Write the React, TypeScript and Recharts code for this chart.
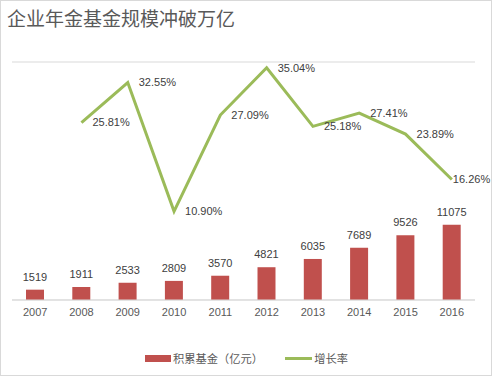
import { ComposedChart, Bar, Line, XAxis, YAxis, CartesianGrid, Legend, LabelList } from "recharts"

const years = ["2007", "2008", "2009", "2010", "2011", "2012", "2013", "2014", "2015", "2016"]
const fundValues = [1519, 1911, 2533, 2809, 3570, 4821, 6035, 7689, 9526, 11075]
const growthRates = [null, 25.81, 32.55, 10.9, 27.09, 35.04, 25.18, 27.41, 23.89, 16.26]
const fundTicks = [0, 5000, 10000, 15000, 20000, 25000, 30000, 35000]

const data = years.map((year, i) => ({
  year,
  fund: fundValues[i],
  growth: growthRates[i],
}))

const numFont = "'Liberation Sans', Arial, sans-serif"
const cjkFont = "'Noto Sans CJK SC', sans-serif"

function GrowthLabel(props: any) {
  const { x, y, value, index } = props
  if (value == null) return null
  // last label is pulled in so it stays inside the plot
  const dx = index === years.length - 1 ? 1 : 11
  return (
    <text x={x + dx} y={y} dy="0.35em" fontSize={11} fill="#404040" fontFamily={numFont}>
      {value.toFixed(2)}%
    </text>
  )
}

function ChartLegend() {
  return (
    <div
      style={{
        height: 46,
        paddingTop: 10,
        boxSizing: "border-box",
        display: "flex",
        justifyContent: "center",
        alignItems: "center",
        fontFamily: cjkFont,
        fontSize: 11.25,
        color: "#595959",
        lineHeight: "16px",
        paddingLeft: 6,
      }}
    >
      <span style={{ display: "flex", alignItems: "center", marginRight: 22 }}>
        <span style={{ width: 26, height: 7, background: "#C0504D", marginRight: 2 }} />
        积累基金（亿元）
      </span>
      <span style={{ display: "flex", alignItems: "center" }}>
        <span style={{ width: 27, height: 3, background: "#9BBB59", marginRight: 2 }} />
        增长率
      </span>
    </div>
  )
}

export default function App() {
  return (
    <div style={{ position: "absolute", left: 0, top: 0, width: 492, height: 376, background: "#fff" }}>
      <div
        style={{
          position: "absolute",
          left: 7,
          top: 8,
          fontFamily: cjkFont,
          fontSize: 19,
          lineHeight: "20px",
          color: "#595959",
        }}
      >
        企业年金基金规模冲破万亿
      </div>
      <ComposedChart width={492} height={376} data={data} margin={{ top: 62, right: 17, bottom: 0, left: 12 }}>
        <CartesianGrid vertical={false} stroke="#d9d9d9" />
        <XAxis
          dataKey="year"
          axisLine={{ stroke: "#d9d9d9" }}
          tickLine={false}
          height={30}
          tick={{ fill: "#595959", fontSize: 11, fontFamily: numFont }}
        />
        <YAxis yAxisId="fund" hide domain={[0, 35000]} ticks={fundTicks} />
        <YAxis yAxisId="growth" orientation="right" hide domain={[-4, 36]} />
        <Legend verticalAlign="bottom" content={() => <ChartLegend />} />
        <Bar yAxisId="fund" dataKey="fund" fill="#C0504D" barSize={18} isAnimationActive={false}>
          <LabelList dataKey="fund" position="top" offset={9} fill="#404040" fontSize={11} fontFamily={numFont} />
        </Bar>
        <Line
          yAxisId="growth"
          dataKey="growth"
          stroke="#9BBB59"
          strokeWidth={3}
          dot={false}
          isAnimationActive={false}
        >
          <LabelList dataKey="growth" content={GrowthLabel} />
        </Line>
      </ComposedChart>
      <div
        style={{
          position: "absolute",
          left: 0,
          top: 0,
          width: 492,
          height: 376,
          boxSizing: "border-box",
          border: "1px solid #d9d9d9",
          pointerEvents: "none",
        }}
      />
    </div>
  )
}
